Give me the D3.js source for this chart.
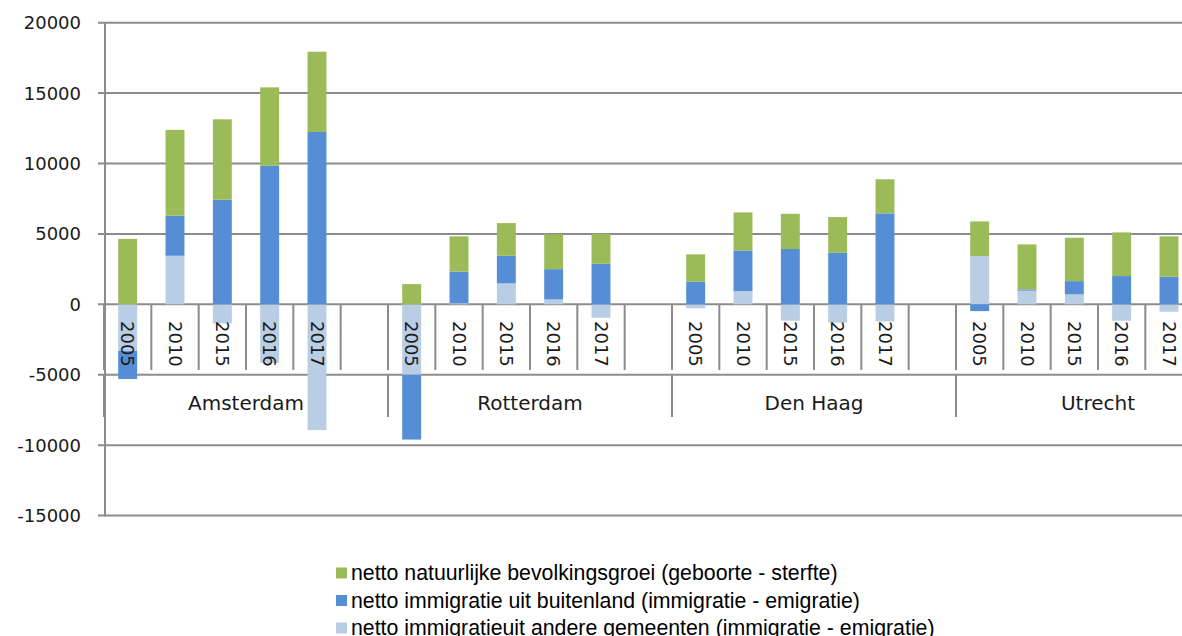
<!DOCTYPE html>
<html>
<head>
<meta charset="utf-8">
<script src="https://cdn.jsdelivr.net/npm/d3@7"></script>
<style>
  body { margin: 0; background: #ffffff; }
  svg { display: block; }
</style>
</head>
<body>
<svg id="chart" width="1182" height="636"></svg>
<script>
const cities = ["Amsterdam", "Rotterdam", "Den Haag", "Utrecht"];
const years = ["2005", "2010", "2015", "2016", "2017"];
const yTicks = [-15000, -10000, -5000, 0, 5000, 10000, 15000, 20000];

// values per city, per year (same order as years)
const natuurlijk = [
    [4650, 6090, 5710, 5570, 5700],
    [1440, 2510, 2320, 2470, 2130],
    [1940, 2700, 2500, 2540, 2420],
    [2460, 3200, 3080, 3100, 2870]
];
const buitenland = [
    [-2000, 2850, 7430, 9840, 12240],
    [-4600, 2240, 1960, 2150, 2880],
    [1610, 2890, 3930, 3660, 6460],
    [-480, 90, 940, 2010, 1960]
];
const gemeenten = [
    [-3300, 3450, -1350, -4150, -8930],
    [-5000, 80, 1490, 350, -950],
    [-280, 940, -1160, -1300, -1210],
    [3430, 970, 710, -1160, -520]
];

const seriesLabels = {
    natuurlijk: "netto natuurlijke bevolkingsgroei (geboorte - sterfte)",
    buitenland: "netto immigratie uit buitenland (immigratie - emigratie)",
    gemeenten: "netto immigratieuit andere gemeenten (immigratie - emigratie)"
};

const color = d3.scaleOrdinal()
    .domain(["gemeenten", "buitenland", "natuurlijk"])
    .range(["#b9cde5", "#558ed5", "#9bbb59"]);

const svg = d3.select("#chart");
const gridColor = "#8c8c8c";
const tickFont = "'DejaVu Sans', sans-serif";

const rows = [];
cities.forEach((city, ci) => {
    years.forEach((year, yi) => {
        rows.push({
            city: city,
            year: year,
            gemeenten: gemeenten[ci][yi],
            buitenland: buitenland[ci][yi],
            natuurlijk: natuurlijk[ci][yi]
        });
    });
});

// Each city gets 6 slots: 5 years and one empty one
const slots = years.concat([""]);

const x0 = d3.scaleBand()
    .domain(cities)
    .range([104, 1240]);

const x1 = d3.scaleBand()
    .domain(slots)
    .range([0, x0.bandwidth()])
    .paddingInner(0.6)
    .paddingOuter(0.3);

const step = x1.step();
const slotLeft = (city, slot) => x0(city) + x1(slot) - step * 0.3;

const y = d3.scaleLinear()
    .domain([-15000, 20000])
    .range([515.6, 22.7]);

// Gridlines
svg.append("g")
    .selectAll("line")
    .data(yTicks)
    .join("line")
    .attr("x1", 98)
    .attr("x2", 1182)
    .attr("y1", d => y(d))
    .attr("y2", d => y(d))
    .attr("stroke", gridColor)
    .attr("stroke-width", 2);

// Y-axis labels
svg.append("g")
    .selectAll("text")
    .data(yTicks)
    .join("text")
    .attr("x", 81)
    .attr("y", d => y(d))
    .attr("dy", "0.36em")
    .attr("text-anchor", "end")
    .attr("font-family", tickFont)
    .attr("font-size", "18px")
    .attr("fill", "#1a1a1a")
    .text(d => d);

// Stacked bars (positives up, negatives down)
const stack = d3.stack()
    .keys(["gemeenten", "buitenland", "natuurlijk"])
    .offset(d3.stackOffsetDiverging);

const stacked = stack(rows);

svg.append("g")
    .selectAll("g")
    .data(stacked)
    .join("g")
    .attr("fill", d => color(d.key))
    .selectAll("rect")
    .data(d => d)
    .join("rect")
    .attr("x", d => x0(d.data.city) + x1(d.data.year))
    .attr("width", x1.bandwidth())
    .attr("y", d => y(Math.max(d[0], d[1])))
    .attr("height", d => Math.abs(y(d[0]) - y(d[1])));

// Vertical axis line
svg.append("line")
    .attr("x1", 105)
    .attr("x2", 105)
    .attr("y1", y(20000))
    .attr("y2", y(-15000) + 1)
    .attr("stroke", gridColor)
    .attr("stroke-width", 2);

// Category axis: slot ticks below zero line
const slotBounds = [];
cities.forEach(city => {
    slots.forEach(slot => slotBounds.push(slotLeft(city, slot)));
});

svg.append("g")
    .selectAll("line")
    .data(slotBounds)
    .join("line")
    .attr("x1", d => d)
    .attr("x2", d => d)
    .attr("y1", y(0))
    .attr("y2", 370)
    .attr("stroke", gridColor)
    .attr("stroke-width", 2);

// City separators
svg.append("g")
    .selectAll("line")
    .data(cities)
    .join("line")
    .attr("x1", d => x0(d))
    .attr("x2", d => x0(d))
    .attr("y1", y(-5000))
    .attr("y2", 417)
    .attr("stroke", gridColor)
    .attr("stroke-width", 2);

// Year labels, rotated
svg.append("g")
    .selectAll("text")
    .data(rows)
    .join("text")
    .attr("transform", d => `translate(${x0(d.city) + x1(d.year) + x1.bandwidth() / 2}, 321) rotate(90)`)
    .attr("dy", "0.36em")
    .attr("font-family", tickFont)
    .attr("font-size", "18px")
    .attr("fill", "#1a1a1a")
    .text(d => d.year);

// City labels
svg.append("g")
    .selectAll("text")
    .data(cities)
    .join("text")
    .attr("x", d => x0(d) + x0.bandwidth() / 2)
    .attr("y", 410)
    .attr("text-anchor", "middle")
    .attr("font-family", tickFont)
    .attr("font-size", "20px")
    .attr("fill", "#1a1a1a")
    .text(d => d);

// Legend
const legendKeys = ["natuurlijk", "buitenland", "gemeenten"];
const legend = svg.append("g")
    .attr("transform", "translate(336, 573)");

const legendItems = legend.selectAll("g")
    .data(legendKeys)
    .join("g")
    .attr("transform", (d, i) => `translate(0, ${i * 27.5})`);

legendItems.append("rect")
    .attr("x", 0)
    .attr("y", -5.5)
    .attr("width", 11)
    .attr("height", 11)
    .attr("fill", d => color(d));

legendItems.append("text")
    .attr("x", 15)
    .attr("y", 0)
    .attr("dy", "0.35em")
    .attr("font-family", "'Liberation Sans', Arial, sans-serif")
    .attr("font-size", "21.3px")
    .attr("fill", "#000000")
    .text(d => seriesLabels[d]);
</script>
</body>
</html>
